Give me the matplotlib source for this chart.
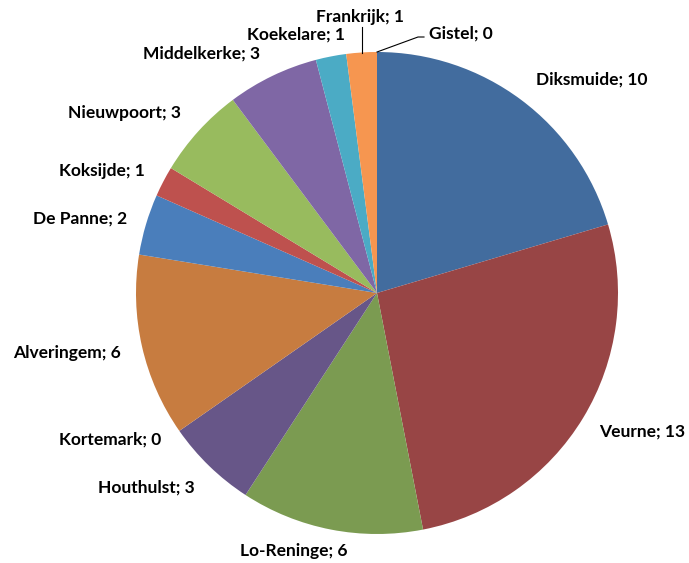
import matplotlib.pyplot as plt

# slices, clockwise from the top
gemeenten = ['Diksmuide', 'Veurne', 'Lo-Reninge', 'Houthulst', 'Kortemark',
             'Alveringem', 'De Panne', 'Koksijde', 'Nieuwpoort', 'Middelkerke',
             'Koekelare', 'Frankrijk', 'Gistel']
aantal = [10, 13, 6, 3, 0, 6, 2, 1, 3, 3, 1, 1, 0]
kleuren = ['#426C9E', '#984545', '#7B9B51', '#675688', '#4198AF',
           '#C77C40', '#4A7EBB', '#BE514E', '#98BB5E', '#7F67A5',
           '#4BABC5', '#F69650', '#4A7EBB']

# label anchor positions (pixels, from top-left)
label_pos = [(592, 80), (642, 432), (294, 551), (146, 488), (110, 440),
             (67, 353), (80, 219), (102, 171), (124, 113), (202, 54),
             (296, 35), (360, 17), (461, 34)]

W, H = 689, 563
fig = plt.figure(figsize=(W / 100, H / 100), dpi=100)
ax = fig.add_axes([0, 0, 1, 1])
ax.set_xlim(0, W)
ax.set_ylim(0, H)
ax.set_aspect('equal')
ax.axis('off')

cx, cy, r = 377, H - 293, 241
ax.pie(aantal, colors=kleuren, startangle=90, counterclock=False,
       center=(cx, cy), radius=r, frame=True,
       wedgeprops=dict(linewidth=0))
ax.set_xlim(0, W)
ax.set_ylim(0, H)
ax.axis('off')

for naam, n, (x, y) in zip(gemeenten, aantal, label_pos):
    ax.text(x, H - y, f'{naam}; {n}', ha='center', va='center',
            fontsize=12.5, fontweight='bold', family='Lato', color='black')

# leader lines for the small slices at the top
ax.plot([362, 362], [H - 27, H - 53], color='black', lw=0.8)
ax.plot([377, 418, 424], [H - 52, H - 37, H - 37], color='black', lw=0.8)

fig.savefig('out.png', dpi=100)
